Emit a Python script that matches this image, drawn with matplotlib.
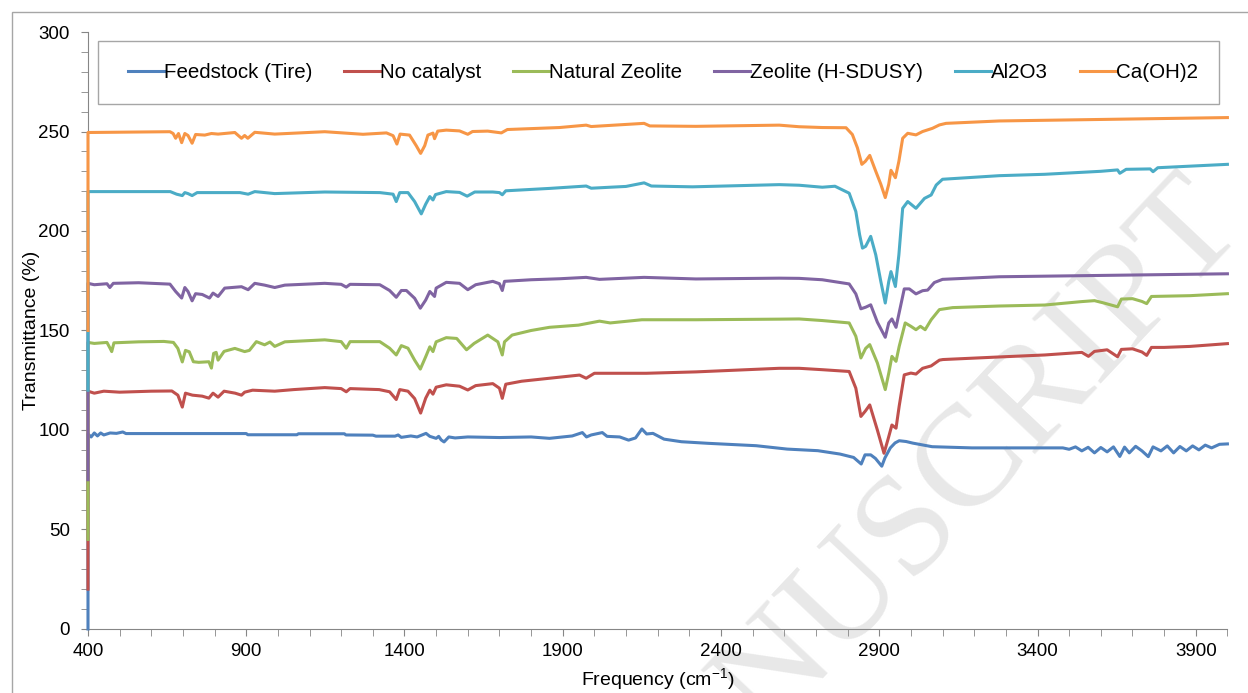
import matplotlib
matplotlib.use("Agg")
import matplotlib.pyplot as plt
from matplotlib.ticker import MultipleLocator
from matplotlib.patches import Rectangle

plt.rcParams['font.family'] = ['Liberation Sans', 'DejaVu Sans']

# FTIR spectra (wavenumber cm-1, transmittance %)
feed_x = [400, 400, 410, 420, 430, 440, 450, 470, 490, 510, 520, 700, 900, 905, 1060, 1065, 1210, 1215,
          1300, 1310, 1370, 1380, 1390, 1420, 1440, 1468, 1480, 1500, 1508, 1516, 1525, 1540, 1560, 1600,
          1700, 1800, 1858, 1900, 1930, 1962, 1975, 1990, 2025, 2040, 2080, 2108, 2130, 2150, 2165, 2185,
          2220, 2275, 2359, 2511, 2609, 2706, 2776, 2819, 2843, 2855, 2873, 2888, 2908, 2918, 2935, 2950,
          2963, 2985, 3006, 3067, 3193, 3480, 3500, 3520, 3540, 3560, 3580, 3600, 3620, 3640, 3660, 3675,
          3690, 3710, 3730, 3750, 3765, 3790, 3810, 3830, 3850, 3870, 3890, 3910, 3930, 3950, 3975, 4000]
feed_y = [0, 98, 96.5, 98.5, 97, 98.5, 97.5, 98.5, 98.3, 99, 98.2, 98.2, 98.2, 97.6, 97.6, 98.1, 98.1, 97.5,
          97.4, 96.9, 96.9, 97.5, 96.3, 97, 96.5, 98.3, 96.8, 95.8, 96.8, 95, 94, 96.5, 96, 96.5,
          96.2, 96.5, 95.8, 96.5, 97, 98.7, 96.5, 97.5, 98.7, 96.8, 96.5, 94.9, 96, 100.5, 98, 98.3,
          95.4, 94.1, 93.3, 92.1, 90.4, 89.6, 87.9, 86.2, 82.9, 87.5, 87.5, 85.7, 81.8, 86, 91, 93.5,
          94.6, 94.2, 93.4, 91.6, 91, 91, 90.3, 91.5, 89.5, 91.3, 88.5, 91.2, 89, 91.5, 86.7, 91.4,
          88.5, 91.8, 89.5, 86.6, 91.5, 89.5, 92, 88.5, 91.7, 89.5, 92, 90, 92.4, 91, 92.8, 93]

nocat_x = [400, 400, 420, 450, 500, 600, 665, 684, 698, 708, 730, 761, 782, 795, 811, 830, 865, 885, 895,
           920, 990, 1050, 1148, 1200, 1216, 1228, 1320, 1353, 1374, 1385, 1411, 1432, 1451, 1467, 1480,
           1490, 1500, 1532, 1574, 1600, 1625, 1679, 1700, 1709, 1720, 1770, 1858, 1953, 1974, 2000, 2164,
           2321, 2584, 2647, 2720, 2805, 2826, 2842, 2856, 2870, 2894, 2915, 2928, 2940, 2953, 2963, 2979,
           3000, 3016, 3037, 3064, 3090, 3101, 3279, 3423, 3540, 3561, 3580, 3620, 3653, 3665, 3700, 3730,
           3745, 3760, 3800, 3882, 3950, 4000]
nocat_y = [20, 119.5, 118.5, 119.5, 119, 119.5, 119.6, 117.5, 111.5, 118.5, 117.5, 117, 116, 118.5, 116.5,
           119.5, 118.5, 117.5, 119, 120, 119.5, 120.3, 121.3, 120.8, 119.2, 120.8, 120.3, 119.2, 115.3,
           120.3, 119.5, 115.8, 108.5, 116, 120, 118, 121.5, 122.7, 122, 120.1, 122.3, 123.3, 121, 115.9,
           123, 124.5, 126, 127.6, 126, 128.5, 128.5, 129.2, 131, 131, 130.3, 129.4, 121, 106.8, 109.5,
           112.6, 100, 88.3, 95.5, 102.5, 100.9, 112, 127.7, 128.6, 128.1, 131, 132.2, 135.1, 135.4, 136.7,
           137.7, 139, 137, 139.5, 140.3, 136.8, 140.5, 140.8, 139.2, 137.5, 141.5, 141.5, 142, 142.8, 143.4]

natzeo_x = [400, 400, 420, 460, 470, 475, 482, 560, 640, 670, 684, 698, 708, 720, 733, 750, 782, 790, 797,
            805, 811, 830, 864, 895, 910, 932, 958, 975, 990, 1022, 1148, 1200, 1216, 1228, 1322, 1353, 1374,
            1390, 1411, 1432, 1450, 1467, 1480, 1490, 1500, 1532, 1565, 1596, 1620, 1663, 1695, 1709, 1716,
            1740, 1800, 1858, 1950, 2016, 2050, 2150, 2321, 2584, 2647, 2720, 2805, 2826, 2842, 2857, 2870,
            2894, 2919, 2930, 2940, 2953, 2963, 2982, 3000, 3016, 3030, 3045, 3064, 3090, 3132, 3279, 3423,
            3538, 3580, 3610, 3653, 3665, 3700, 3730, 3745, 3760, 3882, 4000]
natzeo_y = [45, 144, 143.5, 144, 141, 139.4, 143.8, 144.3, 144.5, 144, 141, 134.2, 140, 139.3, 134.3, 134,
            134.3, 131.1, 138.5, 139, 135.1, 139.5, 141, 139.4, 140, 144.4, 142.8, 144.2, 142, 144.3, 145.3,
            144.4, 141.1, 144.4, 144.4, 141.1, 137.7, 142.4, 141.1, 135.1, 130.6, 136.8, 141.8, 139.4, 144.3,
            146.4, 146, 140.3, 143.5, 147.7, 144.3, 137.7, 144.3, 147.7, 150, 151.6, 152.7, 154.7, 153.8,
            155.4, 155.4, 155.7, 155.8, 155, 153.8, 147.1, 136.2, 141, 142.9, 133.7, 120.3, 128.5, 137, 134.5,
            142, 153.8, 152.1, 150.4, 152.1, 150.4, 155.4, 160.5, 161.5, 162.3, 162.8, 164.5, 165, 163.8,
            161.9, 165.8, 166, 164.6, 163.5, 167.1, 167.5, 168.5]

hsdusy_x = [400, 400, 420, 460, 469, 480, 560, 659, 677, 696, 706, 716, 729, 740, 761, 784, 795, 811, 832,
            885, 906, 927, 958, 990, 1022, 1148, 1200, 1216, 1228, 1322, 1353, 1374, 1390, 1406, 1432, 1450,
            1467, 1480, 1495, 1500, 1532, 1574, 1600, 1625, 1679, 1700, 1709, 1716, 1800, 1890, 1974, 2016,
            2157, 2321, 2584, 2647, 2720, 2805, 2826, 2842, 2857, 2873, 2894, 2919, 2930, 2940, 2953, 2963,
            2979, 2995, 3016, 3037, 3053, 3074, 3100, 3279, 3423, 4000]
hsdusy_y = [75, 173.7, 173, 173.5, 171.6, 173.7, 174, 173.3, 169.6, 166.3, 171.6, 169.6, 164.9, 168.5,
            168.1, 166.3, 168.8, 167.1, 171.3, 172, 170.5, 173.7, 172.8, 171.6, 172.8, 173.7, 173.2, 171.8,
            173.2, 173, 170.1, 166.7, 170.1, 170.1, 166.2, 161.2, 165.3, 169.6, 167.1, 171.3, 174.2, 173.7,
            170.5, 173, 174.7, 173.5, 170.1, 174.7, 175.5, 176, 176.7, 175.7, 176.7, 175.9, 176.3, 176.2,
            175.5, 173.4, 168.4, 160.9, 161.7, 162.9, 154.2, 146.6, 153.8, 155.8, 151.6, 159, 170.9, 170.9,
            168.4, 170, 170.3, 174.1, 175.7, 177, 177.3, 178.5]

al2o3_x = [400, 400, 660, 680, 698, 706, 716, 729, 745, 811, 880, 906, 927, 990, 1148, 1322, 1364, 1374,
           1385, 1411, 1432, 1453, 1467, 1480, 1490, 1498, 1532, 1574, 1598, 1622, 1679, 1700, 1709, 1720,
           1858, 1974, 1990, 2050, 2100, 2157, 2180, 2310, 2584, 2647, 2720, 2760, 2805, 2826, 2838, 2847,
           2857, 2873, 2889, 2905, 2919, 2930, 2937, 2951, 2962, 2974, 2990, 3016, 3043, 3064, 3080, 3100,
           3279, 3423, 3600, 3653, 3660, 3680, 3756, 3765, 3780, 4000]
al2o3_y = [120, 219.8, 219.8, 218.5, 217.8, 219.3, 218.8, 217.8, 219.3, 219.3, 219.3, 218.5, 219.8, 218.8,
           219.6, 219.3, 218.5, 214.8, 219.3, 219.3, 214.8, 208.6, 213.5, 217.3, 215.6, 218.3, 219.8, 219.4,
           217.5, 219.6, 219.6, 219.3, 218.2, 220.2, 221.4, 222.6, 221.5, 222, 222.4, 224.2, 222.6, 222.2,
           223.3, 223, 222, 222.5, 219, 209.8, 198.1, 191.4, 192.3, 197.3, 188, 174.6, 163.8, 174.6, 179.6,
           172.1, 188, 211.4, 214.8, 211.4, 216.4, 218.1, 223.1, 226, 227.8, 228.5, 230, 230.7, 229, 231,
           231.2, 229.8, 231.8, 233.5]

caoh_x = [400, 400, 659, 669, 677, 686, 696, 706, 716, 729, 740, 769, 790, 811, 864, 885, 895, 905, 927,
          990, 1148, 1269, 1343, 1364, 1376, 1386, 1416, 1437, 1451, 1464, 1474, 1490, 1495, 1505, 1532,
          1574, 1600, 1615, 1663, 1706, 1725, 1890, 1974, 1990, 2157, 2175, 2321, 2584, 2647, 2720, 2795,
          2815, 2831, 2845, 2856, 2870, 2889, 2905, 2919, 2930, 2937, 2951, 2962, 2974, 2990, 3016, 3037,
          3068, 3090, 3111, 3279, 4000]
caoh_y = [150, 249.5, 249.9, 249, 246.6, 249, 244.4, 249, 248, 244.1, 248.5, 248.2, 249, 248.7, 249.5,
          246.6, 248, 246.6, 249.6, 248.7, 249.9, 248.6, 249.3, 247.9, 243.7, 248.7, 248.2, 242.9, 239,
          242.9, 248.2, 249.2, 246.4, 250.2, 250.7, 250.3, 248.6, 250, 250.2, 249.3, 251, 252, 253.2, 252.5,
          254.1, 252.8, 252.6, 253.2, 252.4, 252, 251.9, 248.5, 241.8, 233.5, 235, 238, 230, 223.5, 216.8,
          223.5, 230.5, 226.8, 235, 246.6, 249.1, 248.3, 250, 251.6, 253.3, 254.1, 255.3, 257]

labels = ['Feedstock (Tire)', 'No catalyst', 'Natural Zeolite', 'Zeolite (H-SDUSY)', 'Al2O3', 'Ca(OH)2']
colors = ['#4F81BD', '#C0504D', '#9BBB59', '#8064A2', '#4BACC6', '#F79646']
series = [(feed_x, feed_y), (nocat_x, nocat_y), (natzeo_x, natzeo_y),
          (hsdusy_x, hsdusy_y), (al2o3_x, al2o3_y), (caoh_x, caoh_y)]
xticks = [400, 900, 1400, 1900, 2400, 2900, 3400, 3900]

fig = plt.figure(figsize=(12.48, 6.93), dpi=100)
ax = fig.add_axes([0.0705, 0.0924, 0.913, 0.8614])
ax.set_facecolor('none')

# chart area border
fig.patches.append(Rectangle((12 / 1248, -0.01), 1.02, 1 - 12 / 693 + 0.01, transform=fig.transFigure,
                             fill=False, edgecolor='#a6a6a6', linewidth=1.0))

# watermark
ax.text(0.722, 0.22, 'MANUSCRIPT', transform=fig.transFigure, fontsize=104, family='Liberation Serif',
        color='#e8e8e8', rotation=46.7, rotation_mode='anchor', ha='center', va='center',
        zorder=0.5, clip_on=False)

for (xs, ys), lab, c in zip(series, labels, colors):
    ax.plot(xs, ys, color=c, lw=2.2, label=lab, zorder=2, clip_on=False)

ax.set_xlim(400, 4000)
ax.set_ylim(0, 300)
ax.set_xticks(xticks)
ax.xaxis.set_minor_locator(MultipleLocator(100))
ax.yaxis.set_major_locator(MultipleLocator(50))
ax.yaxis.set_minor_locator(MultipleLocator(10))
for s in ['top', 'right']:
    ax.spines[s].set_visible(False)
for s in ['left', 'bottom']:
    ax.spines[s].set_color('#868686')
    ax.spines[s].set_zorder(1)
ax.tick_params(which='both', direction='out', color='#868686', labelsize=13.5)
ax.tick_params(which='major', length=5)
ax.tick_params(which='minor', length=5)
ax.tick_params(axis='x', which='major', pad=5)
ax.tick_params(axis='y', which='major', pad=8)

ax.set_xlabel('Frequency (cm$^{\\mathregular{-1}}$)', fontsize=14, labelpad=5)
ax.set_ylabel('Transmittance (%)', fontsize=14, labelpad=-1)

# legend box
ax.add_patch(Rectangle((0.0088, 0.879), 0.984, 0.106, transform=ax.transAxes, fill=False,
                       edgecolor='#a6a6a6', linewidth=1.0, zorder=3))
ax.legend(loc='center', bbox_to_anchor=(0.0125, 0.879, 0.984, 0.106), ncol=6, frameon=False,
          fontsize=14.8, handlelength=1.75, handletextpad=0.0, columnspacing=1.55)

fig.savefig('out.png', dpi=100)
